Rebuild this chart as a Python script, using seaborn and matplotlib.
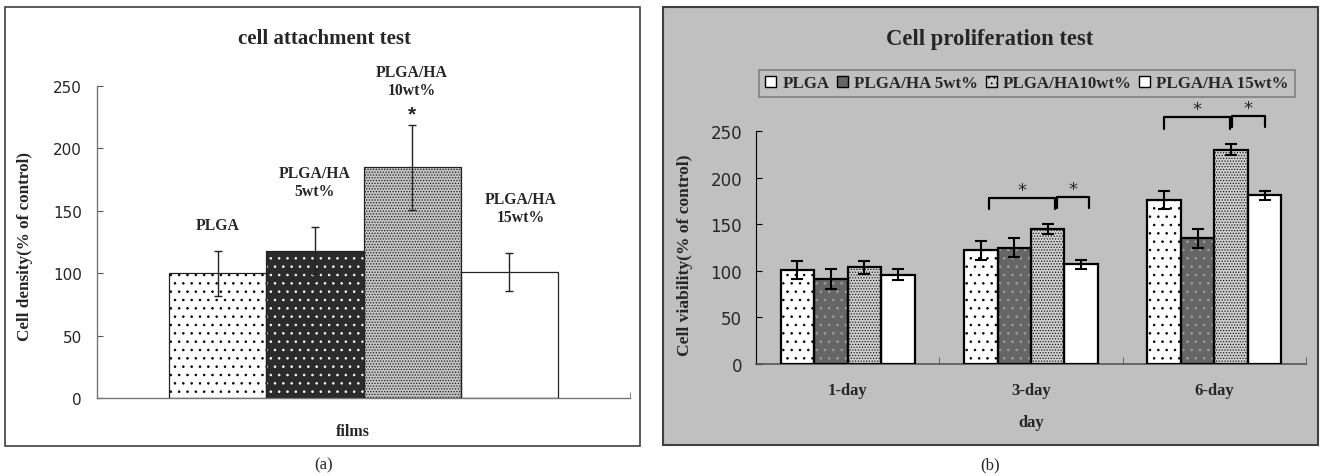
import numpy as np
import pandas as pd
import matplotlib
matplotlib.use("Agg")
import matplotlib.pyplot as plt
from matplotlib.patches import Rectangle, Patch
import seaborn as sns

# ---- data ----
films = ["PLGA", "PLGA/HA 5wt%", "PLGA/HA10wt%", "PLGA/HA 15wt%"]
film_labels = ["PLGA", "PLGA/HA\n5wt%", "PLGA/HA\n10wt%", "PLGA/HA\n15wt%"]
attach_mean = [100, 118, 185, 101]
attach_err = [18, 19, 34, 15]

days = ["1-day", "3-day", "6-day"]
prolif_plga = [101, 122, 176]
prolif_5wt = [91, 125, 135]
prolif_10wt = [104, 145, 230]
prolif_15wt = [96, 107, 181]
err_plga = [10, 10, 10]
err_5wt = [11, 10, 10]
err_10wt = [7, 5, 6]
err_15wt = [6, 5, 5]

SERIF = "Liberation Serif"
TICKFONT = "DejaVu Sans"
BG_B = "#c0c0c0"

sns.set_style("ticks")
plt.rcParams["font.family"] = [SERIF, "DejaVu Sans"]
plt.rcParams["hatch.linewidth"] = 0.6


def restyle(ax, fills, dots, hatches, lw, ec):
    # hatch colour follows the edge colour, so draw outline separately
    for cont, fc, dc, h in zip(ax.containers, fills, dots, hatches):
        for p in cont:
            p.set_facecolor(fc)
            p.set_hatch(h)
            p.set_edgecolor(dc if dc else fc)
            p.set_linewidth(0)
            ax.add_patch(Rectangle(p.get_xy(), p.get_width(), p.get_height(),
                                   fill=False, ec=ec, lw=lw, zorder=3))


def add_errors(ax, means, errs, lw, cap, color):
    for cont, m, e in zip(ax.containers, means, errs):
        xs = [p.get_x() + p.get_width() / 2 for p in cont]
        ax.errorbar(xs, m, yerr=e, fmt="none", ecolor=color, elinewidth=lw,
                    capsize=cap, capthick=lw, zorder=4)


fig = plt.figure(figsize=(13.21, 4.77), dpi=100)

# panel frames (behind the axes)
fig.patches.append(Rectangle((5 / 1321, 1 - 447 / 477), 635 / 1321, 439 / 477,
                             transform=fig.transFigure, fc="white", ec="#404040",
                             lw=1.2, zorder=-5))
fig.patches.append(Rectangle((663 / 1321, 1 - 446 / 477), 655 / 1321, 438 / 477,
                             transform=fig.transFigure, fc=BG_B, ec="#404040",
                             lw=1.5, zorder=-5))

# ---------------- (a) cell attachment ----------------
axa = fig.add_axes([97 / 1321, 1 - 399 / 477, 533 / 1321, 312 / 477])
axa.patch.set_alpha(0)
df_a = pd.DataFrame({"group": ["films"] * 4, "film": films, "value": attach_mean})
sns.barplot(data=df_a, x="group", y="value", hue="film", hue_order=films,
            errorbar=None, width=0.73, gap=0, legend=False, ax=axa)
restyle(axa, ["white", "#2b2b2b", "#c4c4c4", "white"],
        ["black", "white", "#1e1e1e", None], ["..", "..", "......", ""],
        0.9, "#222222")
add_errors(axa, attach_mean, attach_err, 1.0, 3.2, "#222222")

axa.set_xlim(-0.5, 0.5)
axa.set_ylim(0, 250)
axa.set_yticks(range(0, 251, 50))
axa.tick_params(axis="y", direction="in", length=4, width=0.8, color="#555555",
                labelsize=11, pad=11)
for t in axa.get_yticklabels():
    t.set_fontfamily(TICKFONT)
axa.set_xticks([0])
axa.set_xticklabels([""])
axa.set_xticks([-0.5, 0.5], minor=True)
axa.tick_params(axis="x", which="major", length=0)
axa.tick_params(axis="x", which="minor", direction="in", length=4, color="#777777")
sns.despine(ax=axa)
for s in ["left", "bottom"]:
    axa.spines[s].set_color("#777777")
    axa.spines[s].set_linewidth(1.0)
axa.set_ylabel("Cell density(% of control)", fontsize=12.3, fontweight="bold")
axa.yaxis.set_label_coords(-0.12, 0.49)
axa.set_xlabel("films", fontsize=11.5, fontweight="bold")
axa.xaxis.set_label_coords(0.48, -0.08)

label_y = [139, 173, 254, 152]
label_dx = [0, 0, 0, 0.022]
for cont, lab, ly, dx in zip(axa.containers, film_labels, label_y, label_dx):
    p = cont[0]
    axa.text(p.get_x() + p.get_width() / 2 + dx, ly, lab, ha="center", va="center",
             fontsize=11.3, fontweight="bold", linespacing=1.15)
p10 = axa.containers[2][0]
axa.text(p10.get_x() + p10.get_width() / 2, 228, "*", ha="center", va="center",
         fontsize=15, fontweight="bold", family="Liberation Sans")

fig.text(324 / 1321, 1 - 39 / 477, "cell attachment test", ha="center", va="center",
         fontsize=15, fontweight="bold")
fig.text(324 / 1321, 1 - 465 / 477, "(a)", ha="center", va="center", fontsize=12)

# ---------------- (b) cell proliferation ----------------
axb = fig.add_axes([756 / 1321, 1 - 365 / 477, 550 / 1321, 233 / 477])
axb.patch.set_alpha(0)
prolif = [prolif_plga, prolif_5wt, prolif_10wt, prolif_15wt]
errs_b = [err_plga, err_5wt, err_10wt, err_15wt]
df_b = pd.DataFrame({
    "day": days * 4,
    "film": np.repeat(films, len(days)),
    "value": np.concatenate(prolif),
})
sns.barplot(data=df_b, x="day", y="value", hue="film", hue_order=films,
            errorbar=None, width=0.73, gap=0, legend=False, ax=axb)
fills_b = ["white", "#666666", "#cfcfcf", "white"]
dots_b = ["black", "#a0a0a0", "#1a1a1a", None]
hatch_b = ["..", "..", "......", ""]
restyle(axb, fills_b, dots_b, hatch_b, 1.6, "black")
add_errors(axb, prolif, errs_b, 1.5, 4.5, "black")

axb.set_xlim(-0.5, 2.5)
axb.set_ylim(0, 250)
axb.set_yticks(range(0, 251, 50))
axb.tick_params(axis="y", direction="in", length=4, width=0.8, color="black",
                labelsize=12, pad=10)
for t in axb.get_yticklabels():
    t.set_fontfamily(TICKFONT)
axb.set_xticks(range(len(days)))
axb.set_xticks([-0.5, 0.5, 1.5, 2.5], minor=True)
axb.tick_params(axis="x", which="major", length=0, labelsize=12, pad=13)
axb.tick_params(axis="x", which="minor", direction="in", length=5, color="#555555")
for t in axb.get_xticklabels():
    t.set_fontweight("bold")
sns.despine(ax=axb)
axb.spines["left"].set_color("black")
axb.spines["bottom"].set_color("#555555")
axb.spines["bottom"].set_linewidth(1.2)
axb.set_ylabel("Cell viability(% of control)", fontsize=12.6, fontweight="bold")
axb.yaxis.set_label_coords(-0.115, 0.47)
axb.set_xlabel("day", fontsize=12, fontweight="bold")
axb.xaxis.set_label_coords(0.5, -0.215)


def bar_x(ci, di):
    p = axb.containers[ci][di]
    return p.get_x() + p.get_width() / 2


def bracket(x0, x1, top, bottom):
    axb.plot([x0, x0, x1, x1], [bottom, top, top, bottom], color="black",
             lw=1.6, clip_on=False, zorder=5)
    axb.text((x0 + x1) / 2, top + 9, "*", ha="center", va="center",
             fontsize=13, family="DejaVu Sans", clip_on=False)


# significance brackets: 3-day (drawn slightly right of the bars) and 6-day
shift = 0.044
bracket(bar_x(0, 1) + shift, bar_x(2, 1) + shift - 0.005, 178, 166)
bracket(bar_x(2, 1) + shift + 0.005, bar_x(3, 1) + shift, 179, 167)
bracket(bar_x(0, 2), bar_x(2, 2) - 0.005, 265, 252)
bracket(bar_x(2, 2) + 0.005, bar_x(3, 2), 266, 254)

handles = [Patch(fc=fc, ec="black", lw=1.0, hatch=h if i == 2 else "")
           for i, (fc, h) in enumerate(zip(fills_b, ["", "", "...", ""]))]
leg = fig.legend(handles, films, loc="center", bbox_to_anchor=(1027 / 1321, 1 - 84.5 / 477),
                 ncol=4, frameon=True, fancybox=False, edgecolor="#808080",
                 facecolor=BG_B, framealpha=1, handlelength=0.65, handleheight=0.65,
                 handletextpad=0.35, columnspacing=0.45, borderpad=0.35,
                 prop={"family": SERIF, "weight": "bold", "size": 12.2})
leg.get_frame().set_linewidth(1.2)

fig.text(990 / 1321, 1 - 40 / 477, "Cell proliferation test", ha="center", va="center",
         fontsize=16.3, fontweight="bold")
fig.text(990 / 1321, 1 - 465 / 477, "(b)", ha="center", va="center", fontsize=12)

fig.savefig("out.png", dpi=100)
